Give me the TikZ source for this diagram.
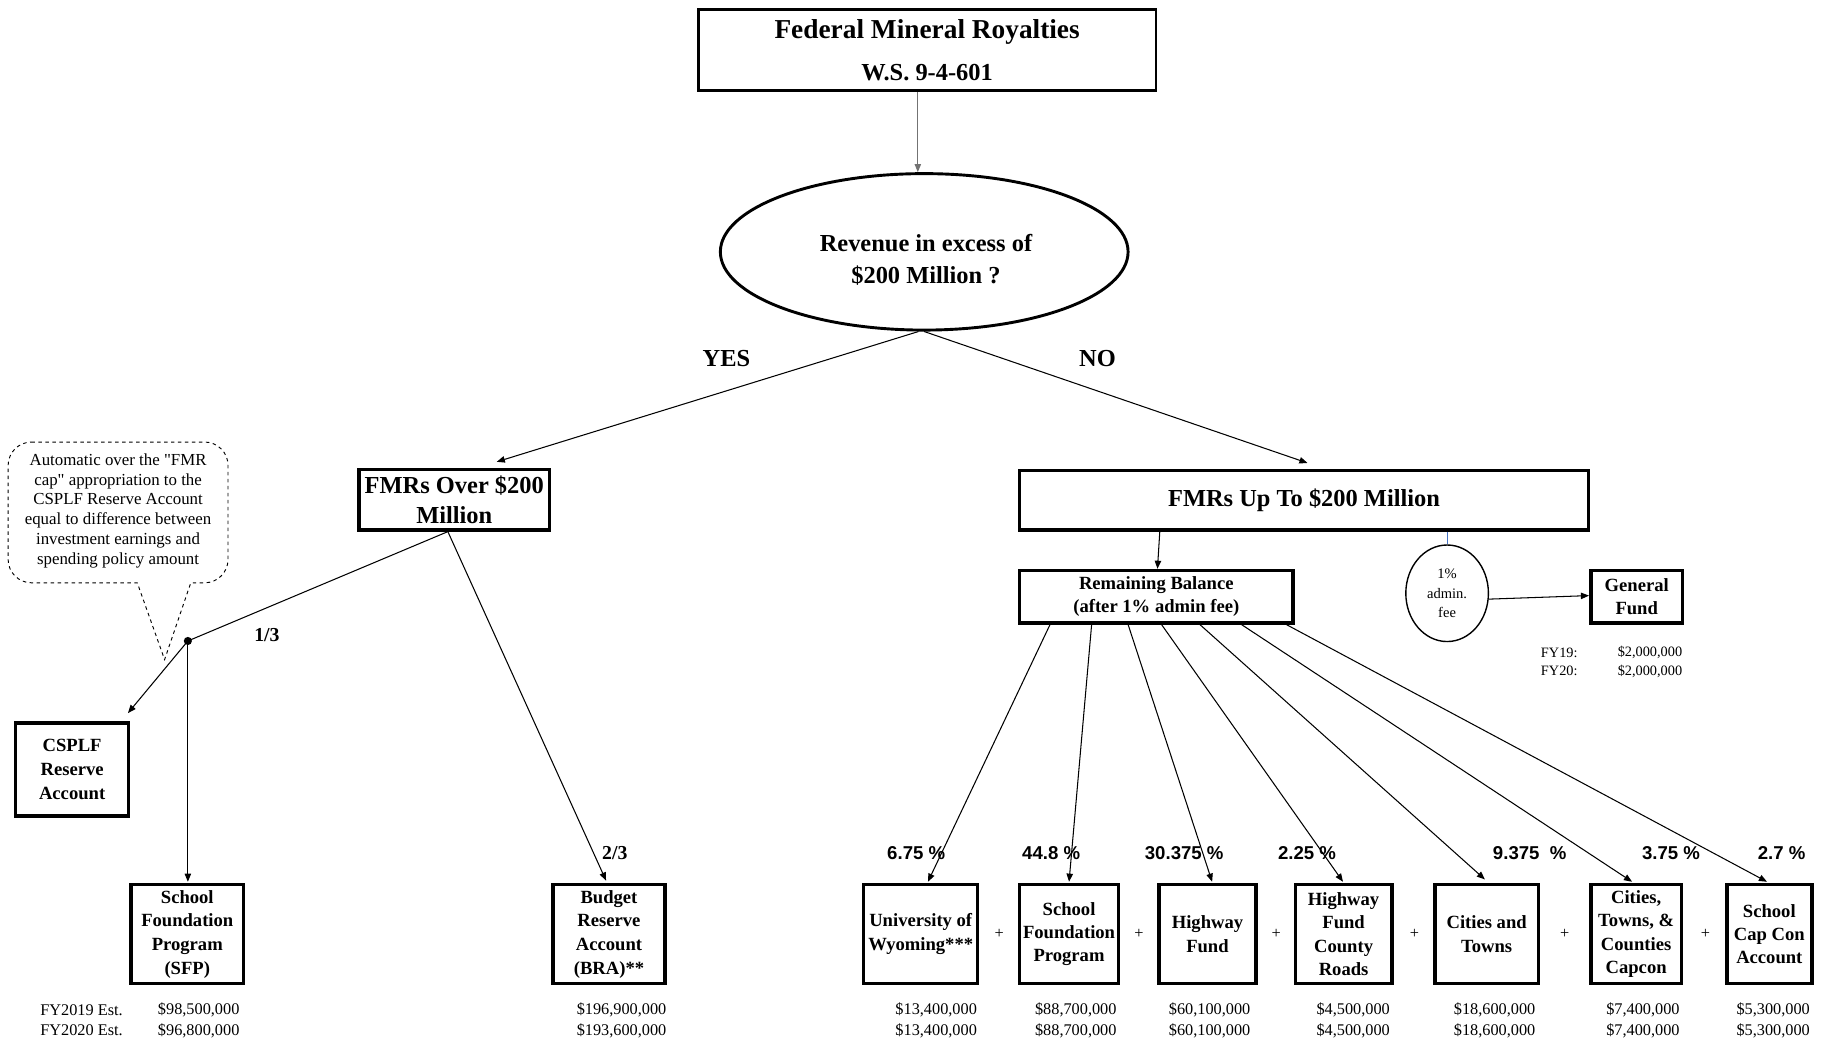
\documentclass[tikz,border=0pt]{standalone}
\usepackage{fontspec}
\setmainfont{Liberation Serif}
\newfontfamily\arialfont{Liberation Sans}
\newfontfamily\notefont{Liberation Serif}[Ligatures=TeXOff]
\usetikzlibrary{shapes.geometric,arrows.meta,calc}
\definecolor{feeblue}{HTML}{4472C4}
\begin{document}
\begin{tikzpicture}[x=1pt,y=-1pt,
  box/.style={draw,line width=3pt,inner sep=0pt,align=center,font=\fontsize{16}{20}\selectfont\bfseries},
  conn/.style={line width=0.9pt,-{Triangle[length=7pt,width=5.5pt]}},
  amt/.style={inner sep=0pt,font=\fontsize{14}{18}\selectfont},
  small/.style={inner sep=0pt,font=\fontsize{12.3}{15}\selectfont},
  pct/.style={inner sep=0pt,font=\arialfont\bfseries\fontsize{16}{19}\selectfont},
  lbl/.style={inner sep=0pt,font=\fontsize{21}{25}\selectfont\bfseries},
  frac/.style={inner sep=0pt,font=\fontsize{17}{20}\selectfont\bfseries},
  plus/.style={inner sep=0pt,font=\fontsize{14}{16}\selectfont}]
\useasboundingbox (0,0) rectangle (1568,895);

% ---------- top ----------
\node[box,line width=2.5pt,minimum width=393.5pt,minimum height=69.5pt,font=\fontsize{21}{36}\selectfont\bfseries] (fmr) at (797,43)
  {{\fontsize{23.5}{36}\selectfont Federal Mineral Royalties}\\W.S. 9-4-601};
\node[draw,ellipse,line width=2.5pt,minimum width=350.5pt,minimum height=134.5pt,inner sep=0pt] (q) at (794.5,216.5) {};
\node[inner sep=0pt,align=center,font=\fontsize{21}{27}\selectfont\bfseries] (qtext) at (796,223.5) {Revenue in excess of\\\$200 Million ?};
\draw[line width=0.9pt,black!55,-{Triangle[length=7pt,width=5.5pt]}] ([xshift=-8pt]fmr.south) -- ([xshift=-5.5pt]q.north);

\node[lbl] (yes) at (624.5,308) {YES};
\node[lbl] (no) at (943.5,308) {NO};

% ---------- left branch ----------
\node[box,minimum width=164pt,minimum height=52pt,font=\fontsize{21}{26}\selectfont\bfseries] (over) at (390.5,429.5) {FMRs Over \$200\\Million};
\draw[conn] ([xshift=-5pt]q.south) -- ([xshift=36.5pt,yshift=5pt]over.north);

\draw[dashed,line width=0.8pt]
  (27,380) -- (176,380) .. controls (187,380) and (196,389) .. (196,400)
  -- (196,481) .. controls (196,492) and (187,501) .. (176,501)
  -- (164,501) -- (141.5,567) -- (118,501) -- (27,501)
  .. controls (16,501) and (7,492) .. (7,481) -- (7,400)
  .. controls (7,389) and (16,380) .. (27,380) -- cycle;
\node[align=center,inner sep=0pt,font=\notefont\fontsize{14.5}{17}\selectfont] (note) at (101.5,439)
  {Automatic over the "FMR\\cap" appropriation to the\\CSPLF Reserve Account\\equal to difference between\\investment earnings and\\spending policy amount};

\node[fill,circle,inner sep=0pt,minimum size=7pt] (split) at (161.5,551) {};
\node[frac] (third) at (229.5,546) {1/3};

\node[box,minimum width=97pt,minimum height=80pt,font=\fontsize{16}{20.5}\selectfont\bfseries] (csplf) at (62,661.5) {CSPLF\\Reserve\\Account};
\node[box,minimum width=97pt,minimum height=85pt,font=\fontsize{16}{20.3}\selectfont\bfseries] (sfp) at (161,803) {School\\Foundation\\Program\\(SFP)};
\node[box,minimum width=96pt,minimum height=85pt,font=\fontsize{16}{20.3}\selectfont\bfseries] (bra) at (523.5,803) {Budget\\Reserve\\Account\\(BRA)**};
\node[frac] (twothirds) at (528.5,733) {2/3};

\draw[line width=0.9pt] ([xshift=-5.5pt]over.south) -- (split.center);
\draw[conn] ([xshift=-5.5pt]over.south) -- ([xshift=-2.5pt,yshift=2pt]bra.north);
\draw[conn] (split.center) -- ([xshift=-2pt,yshift=7pt]csplf.north east);
\draw[conn] (split.center) -- ([yshift=1pt]split.center |- sfp.north);

\node[amt,anchor=west] (fy19a) at (34.5,868) {FY2019 Est.};
\node[amt,anchor=west] (fy20a) at (34.5,886) {FY2020 Est.};
\node[amt,anchor=east] (sfp19) at (206,868) {\$98,500,000};
\node[amt,anchor=east] (sfp20) at (206,886) {\$96,800,000};
\node[amt,anchor=east] (bra19) at (573,868) {\$196,900,000};
\node[amt,anchor=east] (bra20) at (573,886) {\$193,600,000};

% ---------- right branch ----------
\node[box,minimum width=489pt,minimum height=51pt,font=\fontsize{21}{26}\selectfont\bfseries] (up) at (1121,430) {FMRs Up To \$200 Million};
\draw[conn] (q.south) -- ([xshift=3pt,yshift=5pt]up.north);

\node[box,minimum width=235pt,minimum height=45pt] (rb) at (994,513) {Remaining Balance\\(after 1\% admin fee)};
\draw[conn] ([xshift=-124pt]up.south) -- ([xshift=1pt]rb.north);

\node[draw,ellipse,line width=1.2pt,minimum width=71pt,minimum height=83pt,inner sep=0pt,align=center,font=\fontsize{12.5}{16.5}\selectfont] (fee) at (1244,510) {1\%\\admin.\\fee};
\draw[line width=1pt,feeblue] (up.south -| fee.north) -- (fee.north);
\node[box,minimum width=79pt,minimum height=45pt] (gf) at (1407,513) {General\\Fund};
\draw[conn] (fee.-8) -- ([yshift=1pt]gf.west);
\node[small,anchor=west] (fy19b) at (1324.5,561) {FY19:};
\node[small,anchor=west] (fy20b) at (1324.5,577) {FY20:};
\node[small,anchor=west] (gf19) at (1390.5,561) {\$2,000,000};
\node[small,anchor=west] (gf20) at (1390.5,577) {\$2,000,000};

% bottom boxes
\node[box,minimum width=98pt,minimum height=85pt] (uw) at (791.5,803) {University of\\Wyoming***};
\node[box,minimum width=85pt,minimum height=85pt] (sfp2) at (919,803) {School\\Foundation\\Program};
\node[box,minimum width=83pt,minimum height=85pt] (hf) at (1038,803) {Highway\\Fund};
\node[box,minimum width=83pt,minimum height=85pt] (hfcr) at (1155,803) {Highway\\Fund\\County\\Roads};
\node[box,minimum width=89pt,minimum height=85pt] (ct) at (1278,803) {Cities and\\Towns};
\node[box,minimum width=78pt,minimum height=85pt] (ctc) at (1406.5,803) {Cities,\\Towns, \&\\Counties\\Capcon};
\node[box,minimum width=73pt,minimum height=85pt] (scc) at (1521,803) {School\\Cap Con\\Account};

\node[plus] (p1) at (859,803) {+};
\node[plus] (p2) at (979,803) {+};
\node[plus] (p3) at (1097,803) {+};
\node[plus] (p4) at (1216,803) {+};
\node[plus] (p5) at (1345,803) {+};
\node[plus] (p6) at (1466,803) {+};

\draw[conn] ([xshift=-91.4pt]rb.south) -- ([xshift=6.2pt,yshift=1pt]uw.north);
\draw[conn] ([xshift=-55.6pt]rb.south) -- ([yshift=1pt]sfp2.north);
\draw[conn] ([xshift=-24.2pt]rb.south) -- ([xshift=4pt,yshift=1pt]hf.north);
\draw[conn] ([xshift=4.6pt]rb.south) -- ([xshift=-0.5pt,yshift=1pt]hfcr.north);
\draw[conn] ([xshift=37.6pt]rb.south) -- ([xshift=-1.5pt,yshift=3pt]ct.north);
\draw[conn] ([xshift=73.4pt]rb.south) -- ([xshift=-3.5pt,yshift=1pt]ctc.north);
\draw[conn] ([xshift=112pt]rb.south) -- ([xshift=-2pt,yshift=1pt]scc.north);

\node[pct] (pc1) at (787.6,733.5) {6.75 \%};
\node[pct] (pc2) at (903.6,733.5) {44.8 \%};
\node[pct] (pc3) at (1018,733.5) {30.375 \%};
\node[pct] (pc4) at (1123.6,733.5) {2.25 \%};
\node[pct] (pc5) at (1315,733.5) {9.375\ \ \%};
\node[pct] (pc6) at (1436.5,733.5) {3.75 \%};
\node[pct] (pc7) at (1531.5,733.5) {2.7 \%};

\node[amt,anchor=east] (uw19) at (840,868) {\$13,400,000};
\node[amt,anchor=east] (uw20) at (840,886) {\$13,400,000};
\node[amt,anchor=east] (s19) at (960,868) {\$88,700,000};
\node[amt,anchor=east] (s20) at (960,886) {\$88,700,000};
\node[amt,anchor=east] (h19) at (1075,868) {\$60,100,000};
\node[amt,anchor=east] (h20) at (1075,886) {\$60,100,000};
\node[amt,anchor=east] (c19) at (1195,868) {\$4,500,000};
\node[amt,anchor=east] (c20) at (1195,886) {\$4,500,000};
\node[amt,anchor=east] (t19) at (1320,868) {\$18,600,000};
\node[amt,anchor=east] (t20) at (1320,886) {\$18,600,000};
\node[amt,anchor=east] (k19) at (1444,868) {\$7,400,000};
\node[amt,anchor=east] (k20) at (1444,886) {\$7,400,000};
\node[amt,anchor=east] (z19) at (1556,868) {\$5,300,000};
\node[amt,anchor=east] (z20) at (1556,886) {\$5,300,000};
\end{tikzpicture}
\end{document}
